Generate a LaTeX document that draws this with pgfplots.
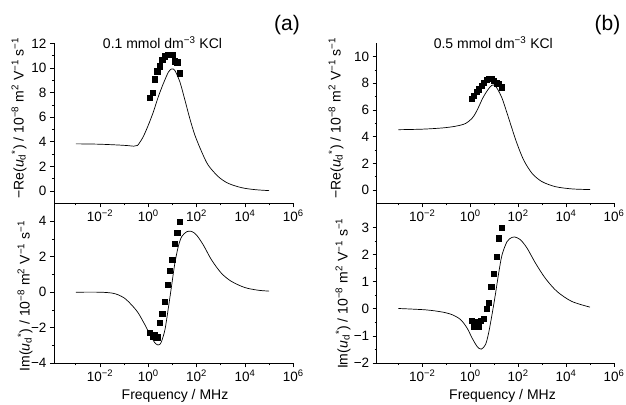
\documentclass[border=0pt]{standalone}
\usepackage{pgfplots}
\pgfplotsset{compat=1.18}
\usepackage{fontspec}
\setmainfont{Liberation Sans}
\newcommand{\tl}{\fontsize{14bp}{16bp}\selectfont}
\newcommand{\tk}{\fontsize{13.5bp}{15bp}\selectfont}
\pgfplotsset{
  panel/.style={
    scale only axis, height=160bp,
    axis x line*=bottom, axis y line*=left,
    every outer x axis line/.append style={-},
    every outer y axis line/.append style={-},
    axis line style={-, line width=0.8pt},
    xmin=-3.9, xmax=6,
    xtick={-2,0,2,4,6},
    xticklabels={10\textsuperscript{−2},10\textsuperscript{0},10\textsuperscript{2},10\textsuperscript{4},10\textsuperscript{6}},
    minor xtick={-3,-1,1,3,5},
    tick align=outside,
    major tick length=4bp, minor tick length=2.2bp,
    every tick/.style={black, line width=0.6pt},
    ticklabel style={font=\tk},
    xticklabel style={yshift=1bp},
    minor y tick num=1,
    anchor=south west,
  },
  curve/.style={black, line width=0.7pt, smooth, no marks},
  pts/.style={black, only marks, mark=square*, mark size=2.6bp},
}
\begin{document}
\begin{tikzpicture}
\path[use as bounding box] (0,0) rectangle (626bp,405bp);
% (a) upper
\begin{axis}[panel, at={(54bp,201.7bp)}, width=239.3bp, ymin=-1, ymax=12,
  ytick={0,2,4,6,8,10,12}, yticklabels={0,2,4,6,8,10,12}]
\addplot[curve] table {
-3.0 3.83
-2.5 3.82
-2.0 3.80
-1.5 3.76
-1.1 3.72
-0.8 3.68
-0.6 3.64
-0.45 3.70
-0.35 3.95
-0.21 4.40
0.0 5.34
0.21 6.42
0.41 7.63
0.62 8.71
0.83 9.65
0.97 9.92
1.10 9.79
1.31 8.85
1.52 7.36
1.72 5.88
1.93 4.53
2.21 3.18
2.48 2.10
2.90 1.16
3.31 0.62
3.86 0.27
4.41 0.11
5.0 0.03
};
\addplot[pts] table {
0.07 7.58
0.17 7.96
0.27 9.09
0.37 9.74
0.48 10.14
0.58 10.68
0.69 10.95
0.79 11.06
0.89 11.06
0.99 11.08
1.10 10.54
1.20 10.46
1.31 9.57
};
\end{axis}
% (a) lower
\begin{axis}[panel, at={(54bp,41.7bp)}, width=239.3bp, ymin=-4, ymax=5,
  ytick={-4,-2,0,2,4}, yticklabels={−4,−2,0,2,4}]
\addplot[curve] table {
-3.0 0.0
-2.0 0.0
-1.5 -0.05
-1.24 -0.15
-1.0 -0.32
-0.83 -0.52
-0.6 -0.85
-0.41 -1.18
-0.14 -1.83
0.07 -2.39
0.28 -2.86
0.41 -2.97
0.48 -2.93
0.55 -2.77
0.69 -2.11
0.83 -0.90
0.97 0.41
1.10 1.63
1.24 2.56
1.38 3.12
1.59 3.40
1.79 3.42
2.0 3.21
2.28 2.65
2.62 1.81
3.03 1.06
3.45 0.60
4.0 0.26
4.55 0.11
5.0 0.06
};
\addplot[pts] table {
0.07 -2.30
0.17 -2.47
0.27 -2.37
0.37 -2.53
0.48 -1.70
0.58 -1.23
0.69 -0.52
0.79 0.41
0.89 1.21
0.99 1.85
1.10 2.71
1.20 3.35
1.31 3.96
};
\end{axis}
% (b) upper
\begin{axis}[panel, at={(376.7bp,201.7bp)}, width=237.3bp, ymin=-1, ymax=11,
  ytick={0,2,4,6,8,10}, yticklabels={0,2,4,6,8,10}]
\addplot[curve] table {
-3.0 4.52
-2.0 4.56
-1.17 4.65
-0.61 4.78
-0.20 4.98
0.08 5.38
0.22 5.75
0.36 6.25
0.50 6.80
0.64 7.25
0.84 7.75
0.98 7.88
1.12 7.63
1.33 6.88
1.54 5.75
1.74 4.63
1.95 3.50
2.23 2.25
2.58 1.25
2.99 0.63
3.55 0.25
4.24 0.08
5.0 0.03
};
\addplot[pts] table {
0.06 6.85
0.16 7.05
0.27 7.35
0.37 7.55
0.47 7.80
0.58 8.05
0.68 8.25
0.79 8.35
0.89 8.35
0.99 8.20
1.09 8.00
1.19 7.95
1.30 7.70
};
\end{axis}
% (b) lower
\begin{axis}[panel, at={(376.7bp,42bp)}, width=237.3bp, ymin=-2, ymax=3.9,
  ytick={-2,-1,0,1,2,3}, yticklabels={−2,−1,0,1,2,3}]
\addplot[curve] table {
-3.0 0.01
-1.86 -0.04
-1.17 -0.12
-0.75 -0.22
-0.40 -0.40
-0.13 -0.71
0.08 -1.08
0.29 -1.39
0.46 -1.49
0.64 -1.32
0.77 -0.89
0.91 -0.22
1.05 0.52
1.19 1.32
1.33 1.99
1.54 2.48
1.74 2.63
1.85 2.65
2.09 2.55
2.37 2.24
2.72 1.69
3.13 1.13
3.62 0.64
4.24 0.27
5.0 0.06
};
\addplot[pts] table {
0.05 -0.43
0.15 -0.65
0.26 -0.49
0.36 -0.65
0.45 -0.43
0.56 -0.38
0.68 0.0
0.77 0.23
0.88 0.82
0.98 1.29
1.09 1.93
1.19 2.60
1.30 2.98
};
\end{axis}
% texts
\node[font=\fontsize{21bp}{24bp}\selectfont] at (287bp,380bp) {(a)};
\node[font=\fontsize{21bp}{24bp}\selectfont] at (607.5bp,380bp) {(b)};
\node[font=\tl] at (162.5bp,362.5bp) {0.1 mmol dm\textsuperscript{−3} KCl};
\node[font=\tl] at (493.3bp,362.5bp) {0.5 mmol dm\textsuperscript{−3} KCl};
\node[font=\tl, rotate=90] at (19bp,287bp) {−Re(\textit{u}\textsubscript{d}\textsuperscript{*}) / 10\textsuperscript{−8} m\textsuperscript{2} V\textsuperscript{−1} s\textsuperscript{−1}};
\node[font=\tl, rotate=90] at (25bp,109bp) {Im(\textit{u}\textsubscript{d}\textsuperscript{*}) / 10\textsuperscript{−8} m\textsuperscript{2} V\textsuperscript{−1} s\textsuperscript{−1}};
\node[font=\tl, rotate=90] at (336bp,287bp) {−Re(\textit{u}\textsubscript{d}\textsuperscript{*}) / 10\textsuperscript{−8} m\textsuperscript{2} V\textsuperscript{−1} s\textsuperscript{−1}};
\node[font=\tl, rotate=90] at (343bp,111.5bp) {Im(\textit{u}\textsubscript{d}\textsuperscript{*}) / 10\textsuperscript{−8} m\textsuperscript{2} V\textsuperscript{−1} s\textsuperscript{−1}};
\node[font=\tl] at (175bp,9bp) {Frequency / MHz};
\node[font=\tl] at (502.5bp,9bp) {Frequency / MHz};
\end{tikzpicture}
\end{document}
